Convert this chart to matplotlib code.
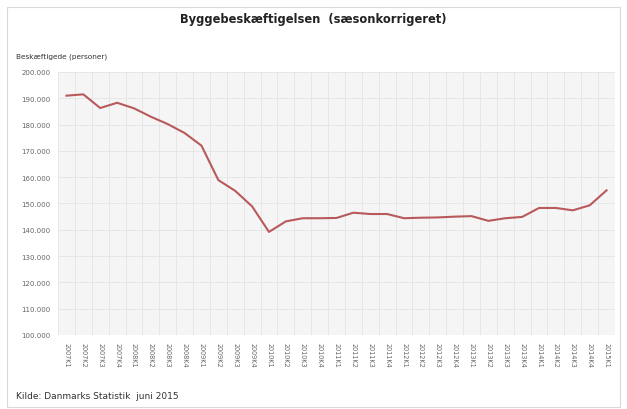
import matplotlib
matplotlib.use("Agg")
import matplotlib.pyplot as plt
from matplotlib.patches import Rectangle
from matplotlib.ticker import FuncFormatter, MultipleLocator

quarters = ["2007K1", "2007K2", "2007K3", "2007K4",
            "2008K1", "2008K2", "2008K3", "2008K4",
            "2009K1", "2009K2", "2009K3", "2009K4",
            "2010K1", "2010K2", "2010K3", "2010K4",
            "2011K1", "2011K2", "2011K3", "2011K4",
            "2012K1", "2012K2", "2012K3", "2012K4",
            "2013K1", "2013K2", "2013K3", "2013K4",
            "2014K1", "2014K2", "2014K3", "2014K4",
            "2015K1"]
employed = [191000, 191500, 186300, 188300,
            186200, 183000, 180200, 176800,
            172000, 158900, 154800, 148900,
            139200, 143200, 144400, 144400,
            144500, 146500, 146000, 146000,
            144400, 144600, 144700, 145000,
            145200, 143400, 144400, 144900,
            148300, 148300, 147400, 149300,
            155000]

title = "Byggebeskæftigelsen  (sæsonkorrigeret)"
ylabel = "Beskæftigede (personer)"
source = "Kilde: Danmarks Statistik  juni 2015"

fig = plt.figure(figsize=(6.27, 4.10), dpi=100)
fig.patches.append(Rectangle((7/627, 2/410), 613/627, 400/410, transform=fig.transFigure,
                             fill=False, edgecolor="#d9d9d9", linewidth=0.8))

ax = fig.add_axes([58/627, 1 - 336/410, 557/627, 263/410])
ax.set_facecolor("#f5f5f5")
x = list(range(len(quarters)))
ax.plot(x, employed, color="#b85a5b", linewidth=1.5, zorder=3)

ax.set_xlim(-0.5, len(quarters) - 0.5)
ax.set_ylim(100000, 200000)
ax.yaxis.set_major_locator(MultipleLocator(10000))
ax.yaxis.set_major_formatter(FuncFormatter(lambda v, p: f"{int(v):,}".replace(",", ".")))
ax.set_xticks(x)
ax.set_xticklabels(quarters, rotation=-90, fontsize=4.7, color="#666666")
ax.tick_params(axis="y", labelsize=5, colors="#666666", length=0, pad=5.5)
ax.tick_params(axis="x", length=0, pad=5)

for b in [i - 0.5 for i in range(len(quarters) + 1)]:
    ax.axvline(b, color="#e6e6e6", linewidth=0.7, zorder=1)
ax.grid(axis="y", color="#e6e6e6", linewidth=0.7, zorder=1)
for s in ax.spines.values():
    s.set_visible(False)

fig.text(0.5, 1 - 20/410, title, ha="center", va="center", fontsize=8.3, fontweight="bold", color="#222222")
fig.text(16/627, 1 - 57/410, ylabel, ha="left", va="center", fontsize=5.3, color="#333333")
fig.text(16/627, 1 - 397/410, source, ha="left", va="center", fontsize=6.5, color="#333333")

fig.savefig("out.png", dpi=100)
